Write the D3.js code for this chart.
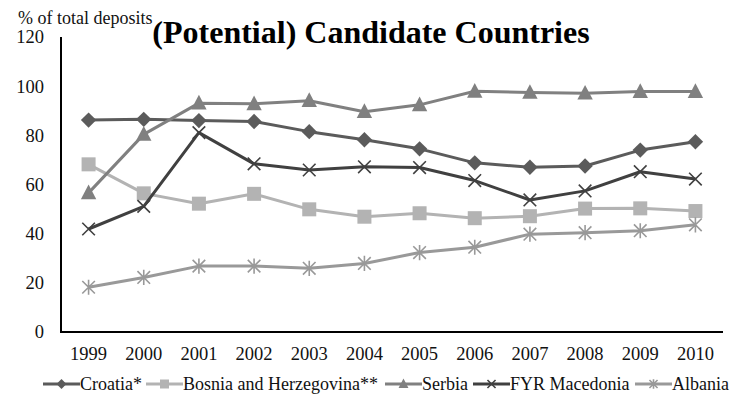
<!DOCTYPE html>
<html>
<head>
<meta charset="utf-8">
<script src="https://cdn.jsdelivr.net/npm/d3@7"></script>
<style>
  body { margin: 0; background: #fff; }
  svg { display: block; font-family: "Liberation Serif", "Times New Roman", serif; }
</style>
</head>
<body>
<svg id="chart" width="733" height="395"></svg>
<script>
const years = ["1999","2000","2001","2002","2003","2004","2005","2006","2007","2008","2009","2010"];
const yTicks = [0, 20, 40, 60, 80, 100, 120];

const croatia = [86.2, 86.5, 86, 85.6, 81.5, 78.2, 74.5, 68.8, 67, 67.5, 74, 77.4];
const bosnia  = [68.2, 56.4, 52.2, 56.2, 49.9, 46.9, 48.3, 46.3, 47.1, 50.2, 50.3, 49.2];
const serbia  = [56.6, 80.4, 93.1, 92.8, 94.1, 89.6, 92.4, 97.9, 97.4, 97.1, 97.8, 97.8];
const macedonia = [41.9, 51.1, 81.1, 68.4, 65.9, 67.2, 66.9, 61.6, 53.7, 57.4, 65.2, 62.2];
const albania = [18.2, 22.2, 26.8, 26.8, 25.9, 27.9, 32.3, 34.5, 39.8, 40.4, 41.2, 43.6];

const series = [
  {name: "Croatia*", values: croatia, color: "#5b5b5b", marker: "diamond"},
  {name: "Bosnia and Herzegovina**", values: bosnia, color: "#b3b3b3", marker: "square"},
  {name: "Serbia", values: serbia, color: "#808080", marker: "triangle"},
  {name: "FYR Macedonia", values: macedonia, color: "#404040", marker: "x"},
  {name: "Albania", values: albania, color: "#999999", marker: "star"}
];

const svg = d3.select("#chart");
const margin = {left: 61, right: 10, top: 37, bottom: 63};
const width = +svg.attr("width"), height = +svg.attr("height");

const x = d3.scalePoint().domain(years).range([margin.left, width - margin.right]).padding(0.5);
const y = d3.scaleLinear().domain([0, 120]).range([height - margin.bottom, margin.top]);

// y labels
svg.append("g").selectAll("text")
  .data(yTicks).enter().append("text")
  .attr("x", 44).attr("y", d => y(d)).attr("dy", "0.35em")
  .attr("text-anchor", "end").attr("font-size", 18.5).attr("fill", "#111")
  .text(d => d);

// x labels
svg.append("g").selectAll("text")
  .data(years).enter().append("text")
  .attr("x", d => x(d)).attr("y", 360)
  .attr("text-anchor", "middle").attr("font-size", 18.5).attr("fill", "#111")
  .text(d => d);

// axes lines
svg.append("line").attr("x1", margin.left).attr("x2", margin.left)
  .attr("y1", y(120)).attr("y2", y(0)).attr("stroke", "#000").attr("stroke-width", 2);
svg.append("line").attr("x1", margin.left - 1).attr("x2", width - margin.right)
  .attr("y1", y(0)).attr("y2", y(0)).attr("stroke", "#000").attr("stroke-width", 2);

svg.append("text").attr("x", 18).attr("y", 24).attr("font-size", 18).attr("fill", "#111")
  .text("% of total deposits");

svg.append("text").attr("x", 371).attr("y", 43).attr("text-anchor", "middle")
  .attr("font-size", 32).attr("font-weight", "bold").attr("fill", "#000")
  .text("(Potential) Candidate Countries");

function drawMarker(g, type, color, cx, cy, s) {
  if (type === "diamond") {
    g.append("path").attr("d", `M${cx},${cy-s*0.55}L${cx+s*0.55},${cy}L${cx},${cy+s*0.55}L${cx-s*0.55},${cy}Z`).attr("fill", color);
  } else if (type === "square") {
    g.append("rect").attr("x", cx - s/2).attr("y", cy - s/2).attr("width", s).attr("height", s).attr("fill", color);
  } else if (type === "triangle") {
    g.append("path").attr("d", `M${cx},${cy-s*0.6}L${cx+s*0.55},${cy+s*0.45}L${cx-s*0.55},${cy+s*0.45}Z`).attr("fill", color);
  } else if (type === "x") {
    const r = s * 0.45;
    g.append("path").attr("d", `M${cx-r},${cy-r}L${cx+r},${cy+r}M${cx-r},${cy+r}L${cx+r},${cy-r}`)
      .attr("stroke", color).attr("stroke-width", 1.6).attr("fill", "none");
  } else if (type === "star") {
    const r = s * 0.45;
    g.append("path").attr("d", `M${cx-r},${cy-r}L${cx+r},${cy+r}M${cx-r},${cy+r}L${cx+r},${cy-r}M${cx},${cy-r*1.2}L${cx},${cy+r*1.2}`)
      .attr("stroke", color).attr("stroke-width", 1.6).attr("fill", "none");
  }
}

const line = d3.line().x((d, i) => x(years[i])).y(d => y(d));

series.forEach(s => {
  const g = svg.append("g");
  g.append("path").datum(s.values).attr("d", line)
    .attr("fill", "none").attr("stroke", s.color).attr("stroke-width", 3)
    .attr("stroke-linejoin", "round");
  s.values.forEach((v, i) => drawMarker(g, s.marker, s.color, x(years[i]), y(v), 14));
});

// legend: text start positions, swatch drawn just before each
const legendTextX = [80, 183, 422, 510, 672];
const legend = svg.append("g");
series.forEach((s, i) => {
  const tx = legendTextX[i], ly = 384;
  legend.append("line").attr("x1", tx - 37).attr("x2", tx).attr("y1", ly).attr("y2", ly)
    .attr("stroke", s.color).attr("stroke-width", 3);
  drawMarker(legend, s.marker, s.color, tx - 18.5, ly, 9);
  legend.append("text").attr("x", tx).attr("y", ly + 6).attr("font-size", 18).attr("fill", "#111")
    .text(s.name);
});
</script>
</body>
</html>
